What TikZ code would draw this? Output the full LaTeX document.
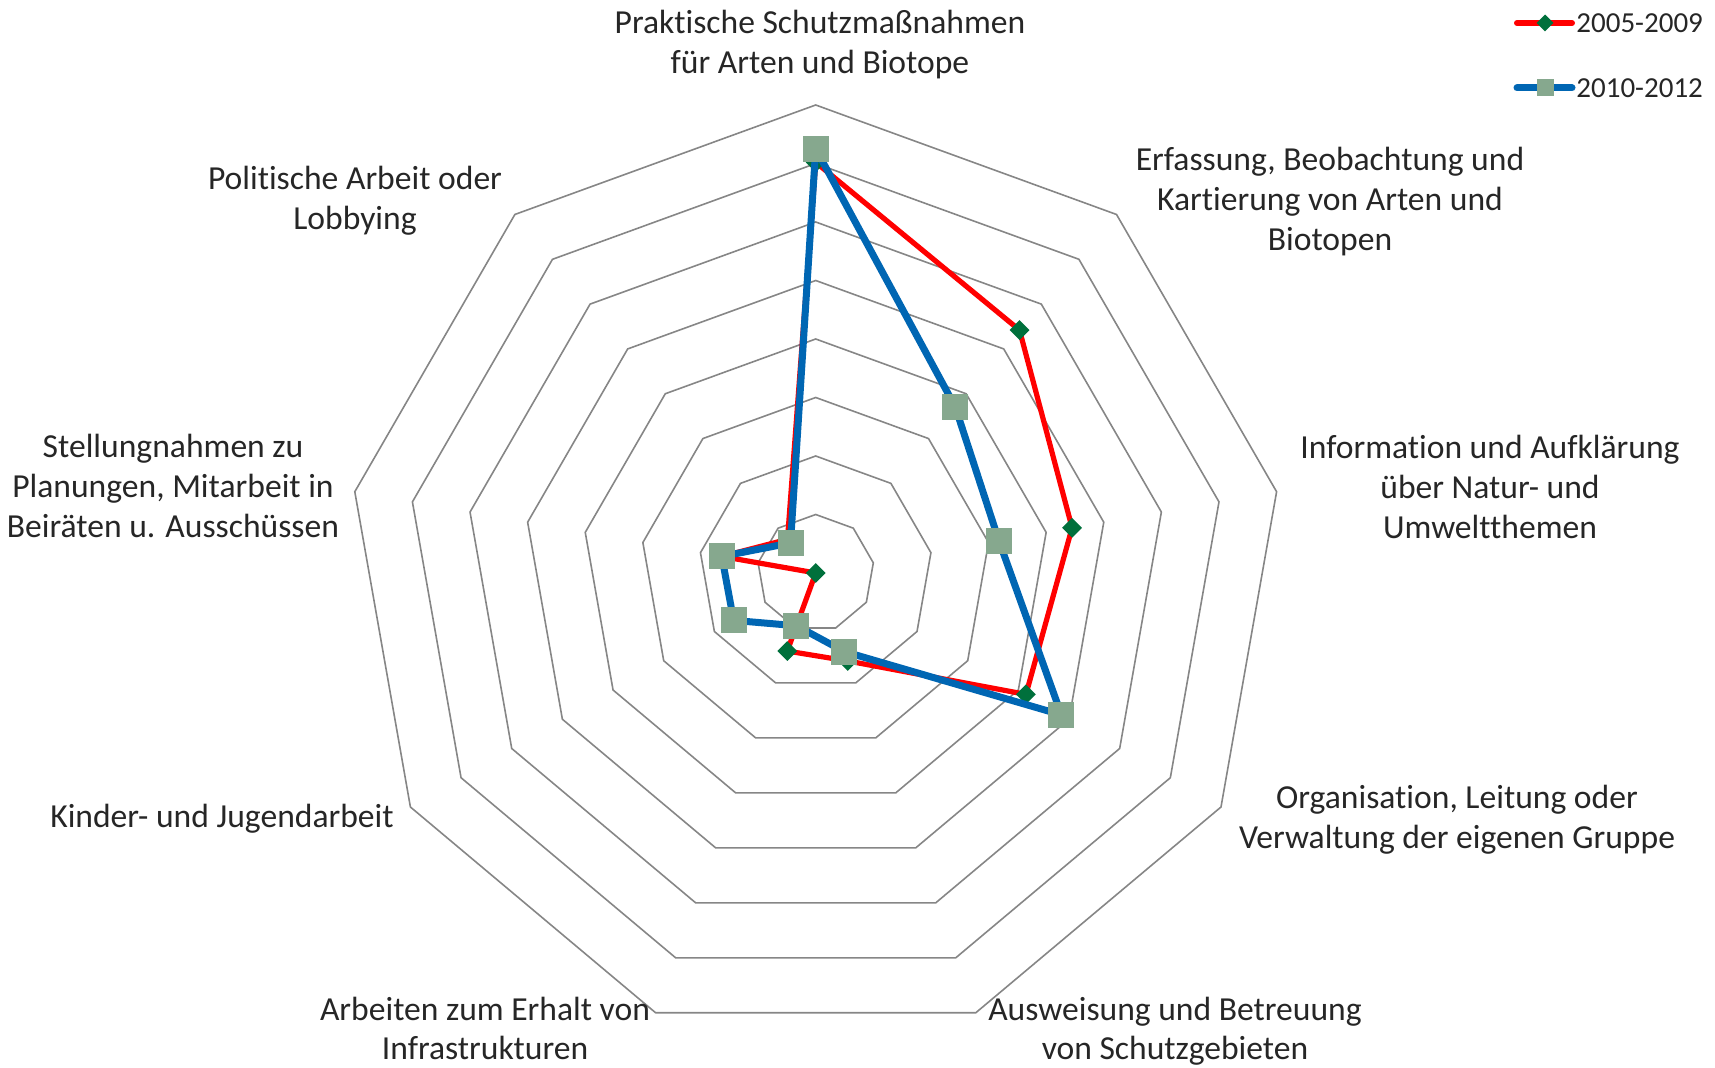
\documentclass[tikz,border=0pt]{standalone}
\usepackage{fontspec}
\setmainfont{Carlito}[Ligatures=NoCommon]
\usepackage{tikz}
\definecolor{serA}{RGB}{255,0,0}
\definecolor{serB}{RGB}{0,102,179}
\definecolor{markA}{RGB}{0,112,60}
\definecolor{markB}{RGB}{134,168,142}
\definecolor{gridgray}{RGB}{134,134,134}
\definecolor{txt}{RGB}{38,38,38}

\begin{document}
\begin{tikzpicture}[x=0.5pt,y=0.5pt,yscale=-1,xscale=1,
  ring/.style={draw=gridgray, line width=0.8pt},
  lineA/.style={draw=serA, line width=2.6pt, line join=round},
  lineB/.style={draw=serB, line width=3.5pt, line join=round},
  diamA/.style={fill=markA, rectangle, rotate=45, inner sep=0pt, minimum size=7pt},
  squareB/.style={fill=markB, rectangle, inner sep=0pt, minimum size=13pt},
  lbl/.style={font=\fontsize{16.8}{20}\selectfont, text=txt, align=center, inner sep=0pt}]
\useasboundingbox (0,0) rectangle (1715,1068);

% Radar: 8 rings, 9 axes, centre at (815.7,573)
\begin{scope}[shift={(815.7,573)}, yscale=-1]
\foreach \k in {1,...,8}
  \draw[ring] (90:\k*58.5) \foreach \a in {50,10,...,-230}{ -- (\a:\k*58.5)} -- cycle;

% Series 2005-2009
\draw[lineA] (90:7.02*58.5) -- (50:5.42*58.5) -- (10:4.45*58.5) -- (-30:4.15*58.5) -- (-70:1.6*58.5) -- (-110:1.42*58.5) -- (-150:0) -- (-190:1.63*58.5) -- (-230:0.75*58.5) -- cycle;
\foreach \a/\v in {90/7.02,50/5.42,10/4.45,-30/4.15,-70/1.6,-110/1.42,-150/0,-190/1.63,-230/0.75}
  \node[diamA] at (\a:\v*58.5) {};

% Series 2010-2012
\draw[lineB] (90:7.25*58.5) -- (50:3.71*58.5) -- (10:3.18*58.5) -- (-30:4.85*58.5) -- (-70:1.43*58.5) -- (-110:0.96*58.5) -- (-150:1.62*58.5) -- (-190:1.63*58.5) -- (-230:0.67*58.5) -- cycle;
\foreach \a/\v in {90/7.25,50/3.71,10/3.18,-30/4.85,-70/1.43,-110/0.96,-150/1.62,-190/1.63,-230/0.67}
  \node[squareB] at (\a:\v*58.5) {};
\end{scope}

% Axis labels
\node[lbl] (lblPraxis) at (820,46) {\strut Praktische Schutzmaßnahmen\\für Arten und Biotope\strut};
\node[lbl] (lblErfassung) at (1330,203) {\strut Erfassung, Beobachtung und\\Kartierung von Arten und\\Biotopen\strut};
\node[lbl] (lblInfo) at (1490,491) {\strut Information und Aufklärung\\über Natur- und\\Umweltthemen\strut};
\node[lbl] (lblOrga) at (1457,821) {\strut Organisation, Leitung oder\\Verwaltung der eigenen Gruppe\strut};
\node[lbl] (lblSchutzgeb) at (1175,1032) {\strut Ausweisung und Betreuung\\von Schutzgebieten\strut};
\node[lbl] (lblInfra) at (485,1032) {\strut Arbeiten zum Erhalt von\\Infrastrukturen\strut};
\node[lbl] (lblKinder) at (222,820) {\strut Kinder- und Jugendarbeit\strut};
\node[lbl] (lblStellung) at (173,490) {\strut Stellungnahmen zu\\Planungen, Mitarbeit in\\Beiräten u. Ausschüssen\strut};
\node[lbl] (lblPolitik) at (355,202) {\strut Politische Arbeit oder\\Lobbying\strut};

% Legend
\draw[lineA, line cap=round, line width=3pt] (1517,23) -- (1572,23);
\node[diamA, minimum size=6pt] (legA) at (1545,23) {};
\node[lbl, anchor=west, font=\fontsize{14.5}{18}\selectfont] (legAtxt) at (1576,23) {2005-2009};
\draw[lineB, line cap=round] (1517,88) -- (1572,88);
\node[squareB, minimum size=8.5pt] (legB) at (1545,88) {};
\node[lbl, anchor=west, font=\fontsize{14.5}{18}\selectfont] (legBtxt) at (1576,88) {2010-2012};

\end{tikzpicture}
\end{document}
